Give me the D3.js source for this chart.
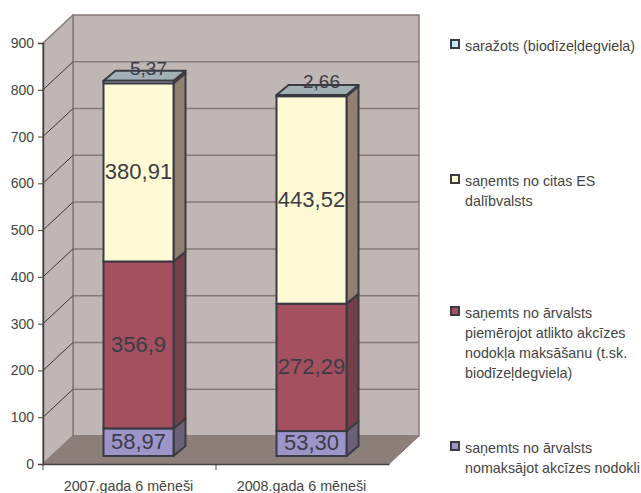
<!DOCTYPE html>
<html>
<head>
<meta charset="utf-8">
<script src="https://d3js.org/d3.v7.min.js"></script>
<style>
html,body{margin:0;padding:0;background:#fff;}
svg{display:block;}
text{font-family:"Liberation Sans",Arial,sans-serif;fill:#444;}
</style>
</head>
<body>
<svg id="chart" width="641" height="493"></svg>
<script>
// data
var categories = ["2007.gada 6 mēneši","2008.gada 6 mēneši"];
var seriesKeys = ["nomaksajot","piemerojot","citasES","sarazots"];
var nomaksajot = [58.97,53.30];
var piemerojot = [356.9,272.29];
var citasES = [380.91,443.52];
var sarazots = [5.37,2.66];
var valueLabels = [["58,97","53,30"],["356,9","272,29"],["380,91","443,52"],["5,37","2,66"]];
var yTicks = [0,100,200,300,400,500,600,700,800,900];
var legendLabels = [
	["saražots (biodīzeļdegviela)"],
	["saņemts no citas ES","dalībvalsts"],
	["saņemts no ārvalsts","piemērojot atlikto akcīzes","nodokļa maksāšanu (t.sk.","biodīzeļdegviela)"],
	["saņemts no ārvalsts","nomaksājot akcīzes nodokli"]
];
var legendY = [44,179,311,446];

var rows = categories.map(function(c,i){
	return {cat:c,nomaksajot:nomaksajot[i],piemerojot:piemerojot[i],citasES:citasES[i],sarazots:sarazots[i]};
});

// colours: front, side, top
var fronts = ["#9d95c9","#a5505f","#fffad6","#c8e8f8"];
var sides = ["#6a6078","#733f48","#918070","#918070"];
var wallColor = "#c0b6b3", floorColor = "#8c7f7a", gridColor = "#857a78", edgeColor = "#3a3a42";

var left = 43, right = 389, depthX = 30, depthY = 28;
var barDepthX = 12, barDepthY = 10, barBase = 8, barShift = 9, barW = 70;

var x = d3.scaleBand().domain(categories).range([left,right]);
var y = d3.scaleLinear().domain([0,900]).range([464,43]);

var svg = d3.select('#chart');
var line = function(p){ return "M" + p.map(function(q){return q.join(",");}).join("L") + "Z"; };

// walls and floor
var y0 = y(0), yTop = y(900);
svg.append('path').attr('d',line([[left+depthX,yTop-depthY],[right+depthX,yTop-depthY],[right+depthX,y0-depthY],[left+depthX,y0-depthY]]))
	.attr('fill',wallColor).attr('stroke',gridColor).attr('stroke-width',1.5);
svg.append('path').attr('d',line([[left,yTop],[left+depthX,yTop-depthY],[left+depthX,y0-depthY],[left,y0]]))
	.attr('fill',wallColor).attr('stroke',gridColor).attr('stroke-width',1.5);
svg.append('path').attr('d',line([[left,y0],[left+depthX,y0-depthY],[right+depthX,y0-depthY],[right,y0]]))
	.attr('fill',floorColor).attr('stroke',gridColor).attr('stroke-width',1);

// grid lines
var grid = svg.append('g').selectAll('g').data(yTicks.slice(1,-1)).enter().append('g');
grid.append('line')
	.attr('x1',left+depthX).attr('x2',right+depthX)
	.attr('y1',function(d){return y(d)-depthY;}).attr('y2',function(d){return y(d)-depthY;})
	.attr('stroke',gridColor).attr('stroke-width',1.5);
grid.append('line')
	.attr('x1',left).attr('x2',left+depthX)
	.attr('y1',function(d){return y(d);}).attr('y2',function(d){return y(d)-depthY;})
	.attr('stroke','#3a3535').attr('stroke-width',1);

// axes
var yAxis = d3.axisLeft(y).tickValues(yTicks).tickSize(5).tickPadding(4).tickFormat(d3.format('d'));
var gy = svg.append('g').attr('transform','translate('+left+',0)').call(yAxis);
var xAxis = d3.axisBottom(x).tickSize(0).tickPadding(17);
var gx = svg.append('g').attr('transform','translate(0,'+y0+')').call(xAxis);
gx.selectAll('.tick').attr('transform',function(d){return 'translate('+(x(d)+x.bandwidth()/2-1)+',0)';});
gx.selectAll('.tick').append('line').attr('class','edge').attr('x1',-x.bandwidth()/2+1).attr('x2',-x.bandwidth()/2+1).attr('y2',6);
gx.append('line').attr('x1',right).attr('x2',right).attr('y2',6);
svg.selectAll('.domain').attr('stroke','#444').attr('stroke-width',1.5);
svg.selectAll('.tick line').attr('stroke','#444');
gy.selectAll('text').style('font-size','14px').attr('fill','#444');
gx.selectAll('text').style('font-size','14.3px').attr('fill','#444');
svg.selectAll('.tick text').attr('font-family','"Liberation Sans",Arial,sans-serif');

// stacked 3d bars
var stack = d3.stack().keys(seriesKeys)(rows);
var h = function(v){ return y(v)-barBase; };
var barX = function(d){ return x(d.data.cat)+(x.bandwidth()-barW)/2+barShift; };
var layers = svg.append('g').selectAll('g').data(stack).enter().append('g');
layers.each(function(s,si){
	var g = d3.select(this);
	var seg = g.selectAll('g').data(s).enter().append('g');
	seg.append('path').attr('class','side')
		.attr('d',function(d){
			var a = barX(d)+barW;
			return line([[a,h(d[0])],[a+barDepthX,h(d[0])-barDepthY],[a+barDepthX,h(d[1])-barDepthY],[a,h(d[1])]]);
		})
		.attr('fill',sides[si]).attr('stroke',edgeColor).attr('stroke-width',2).attr('stroke-linejoin','round');
	if(si==stack.length-1){
		seg.append('path').attr('class','top')
			.attr('d',function(d){
				var a = barX(d);
				return line([[a,h(d[1])],[a+barDepthX,h(d[1])-barDepthY],[a+barW+barDepthX,h(d[1])-barDepthY],[a+barW,h(d[1])]]);
			})
			.attr('fill','#a0b0b4').attr('stroke',edgeColor).attr('stroke-width',2).attr('stroke-linejoin','round');
	}
	seg.append('rect').attr('class','front')
		.attr('x',barX).attr('width',barW)
		.attr('y',function(d){return h(d[1]);})
		.attr('height',function(d){return h(d[0])-h(d[1]);})
		.attr('fill',fronts[si]).attr('stroke',edgeColor).attr('stroke-width',2);
});

// value labels on top of the bars
var labelG = svg.append('g');
stack.forEach(function(s,si){
	s.forEach(function(d,i){
		var small = si==stack.length-1;
		labelG.append('text')
			.attr('x',barX(d)+barW/2+(small?10:0))
			.attr('y',(h(d[0])+h(d[1]))/2+(small?-14:-1))
			.attr('dy','0.36em')
			.attr('text-anchor','middle')
			.attr('font-size',small?19:22)
			.style('fill','#3c3c46')
			.text(valueLabels[si][i]);
	});
});

// legend
var legendFronts = fronts.slice().reverse();
var lg = svg.append('g').selectAll('g').data(legendLabels).enter().append('g')
	.attr('transform',function(d,i){return 'translate(451,'+legendY[i]+')';});
lg.append('rect').attr('x',0).attr('y',-4).attr('width',8).attr('height',8)
	.attr('fill',function(d,i){return legendFronts[i];})
	.attr('stroke',edgeColor).attr('stroke-width',2);
lg.each(function(lines){
	d3.select(this).selectAll('text').data(lines).enter().append('text')
		.attr('x',14).attr('y',function(d,i){return 7+i*20;})
		.attr('font-size',14.3)
		.text(function(d){return d;});
});
</script>
</body>
</html>
